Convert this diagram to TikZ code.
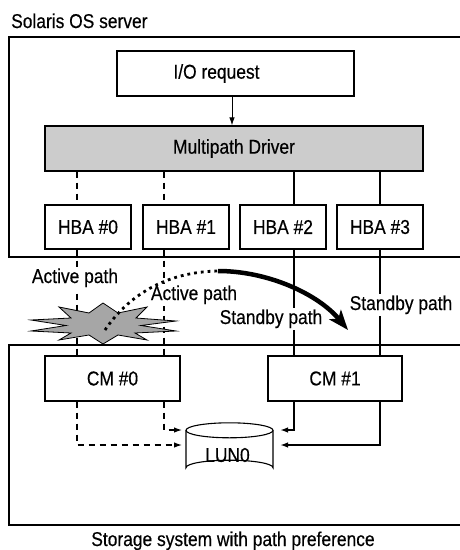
\documentclass[tikz,border=0pt]{standalone}
\usepackage{fontspec}
\setmainfont[FakeStretch=0.87,FakeBold=0.4]{Liberation Sans}
\usetikzlibrary{arrows.meta,calc}

\begin{document}
\begin{tikzpicture}[x=1pt,y=-1pt,
  every node/.style={font=\fontsize{20}{24}\selectfont, inner sep=0pt},
  frame/.style={draw=black, line width=1.1pt},
  blk/.style={frame, fill=white, minimum height=45pt},
  drv/.style={frame, fill=black!20, minimum height=45pt},
  lbl/.style={fill=white, inner sep=1.5pt},
  altline/.style={line width=1.2pt, dash pattern=on 6pt off 5pt},
  prefline/.style={line width=1.9pt},
  tip/.style={-{Latex[length=8pt,width=5.5pt]}},
  caption/.style={anchor=base west}]

\useasboundingbox (0,0) rectangle (460,550);

% enclosing areas (open on the right side)
\draw[frame] (461,37) -| (9,257) -- (461,257);
\draw[frame] (461,345) -| (9,525) -- (461,525);
\node[caption] (srvcap) at (11,28) {Solaris OS server};
\node[anchor=base] (stgcap) at (233,546) {Storage system with path preference};

% server side blocks
\node[blk, minimum width=237pt] (io) at (235.5,73.5) {I/O request\kern38pt};
\node[drv, minimum width=378pt] (mp) at (234,148.5) {Multipath Driver};
\node[blk, minimum width=86pt, minimum height=44pt] (hba0) at (88,227) {HBA \#0};
\node[blk, minimum width=86pt, minimum height=44pt] (hba1) at (186,227) {HBA \#1};
\node[blk, minimum width=86pt, minimum height=44pt] (hba2) at (283,227) {HBA \#2};
\node[blk, minimum width=86pt, minimum height=44pt] (hba3) at (380,227) {HBA \#3};

% storage side blocks
\node[blk, minimum width=135pt] (cm0) at (112.5,378.5) {CM \#0};
\node[blk, minimum width=134pt] (cm1) at (335,378.5) {CM \#1};
\node[minimum width=87pt, minimum height=52pt] (lun) at (229.5,449) {};

% LUN drawn as a cylinder
\coordinate (ltop) at ($(lun.north)+(0,7.5)$);
\coordinate (lbot) at ($(lun.south)+(0,-7.5)$);
\draw[frame, fill=white] ($(ltop)+(-43.5,0)$) -- ($(lbot)+(-43.5,0)$)
  arc[start angle=180, end angle=360, x radius=43.5, y radius=7.5]
  -- ($(ltop)+(43.5,0)$);
\draw[frame, fill=white] (ltop) ellipse[x radius=43.5, y radius=7.5];
\node at ($(lun.center)+(-2,6)$) {LUN0};

% x positions of the four paths
\coordinate (pa) at (77,0);
\coordinate (pb) at (164,0);
\coordinate (pc) at (294,0);
\coordinate (pd) at (380,0);
% arrow ends beside the LUN
\coordinate (la) at (182,445);
\coordinate (lb) at (182,430);
\coordinate (ra) at (280,430);
\coordinate (rb) at (280,445);

\draw[line width=1pt, tip] (io.south -| mp.north) ++(-2,0) coordinate (iof) -- (iof |- mp.north);

% active (non-preferred) paths
\draw[altline] (mp.south -| pa) -- (hba0.north -| pa);
\draw[altline] (mp.south -| pb) -- (hba1.north -| pb);
\draw[altline] (hba0.south -| pa) -- (cm0.north -| pa);
\draw[altline] (hba1.south -| pb) -- (cm0.north -| pb);
\draw[altline, tip] (cm0.south -| pa) |- (la);
\draw[altline, tip] (cm0.south -| pb) |- (lb);

% standby (preferred) paths
\draw[prefline] (mp.south -| pc) -- (hba2.north -| pc);
\draw[prefline] (mp.south -| pd) -- (hba3.north -| pd);
\draw[prefline] (hba2.south -| pc) -- (cm1.north -| pc);
\draw[prefline] (hba3.south -| pd) -- (cm1.north -| pd);
\draw[prefline, tip] (cm1.south -| pc) |- (ra);
\draw[prefline, tip] (cm1.south -| pd) |- (rb);

% path labels
\node[lbl, anchor=base] (act0) at (75,283) {Active path};
\node[lbl, anchor=base] (act1) at (194,300) {Active path};
\node[lbl, anchor=base] (stb0) at (271,324) {Standby path};
\node[lbl, anchor=base] (stb1) at (401,310) {Standby path};

% failure burst
\filldraw[fill=black!35, draw=black, line width=0.8pt]
  (103,303) -- (118,313) -- (147,307) -- (136,318) -- (176,321)
  -- (141,325.5) -- (176,331) -- (135,333) -- (147,340) -- (118,335)
  -- (103,344) -- (89,335) -- (59,340) -- (71,333) -- (31,331)
  -- (66,325.5) -- (31,320) -- (71,318) -- (59,307) -- (89,313) -- cycle;
\coordinate (burst) at (105,330);
\coordinate (bend) at (218,271);
\coordinate (swto) at (348,330);

% path switch-over
\draw[line width=2.8pt, dash pattern=on 2.8pt off 4pt]
  (burst) .. controls (128,296) and (165,272) .. (bend);
\draw[line width=4.5pt, -{Stealth[length=20pt,width=15pt,inset=5pt]}]
  (bend) .. controls (268,271) and (318,294) .. (swto);
\end{tikzpicture}
\end{document}
